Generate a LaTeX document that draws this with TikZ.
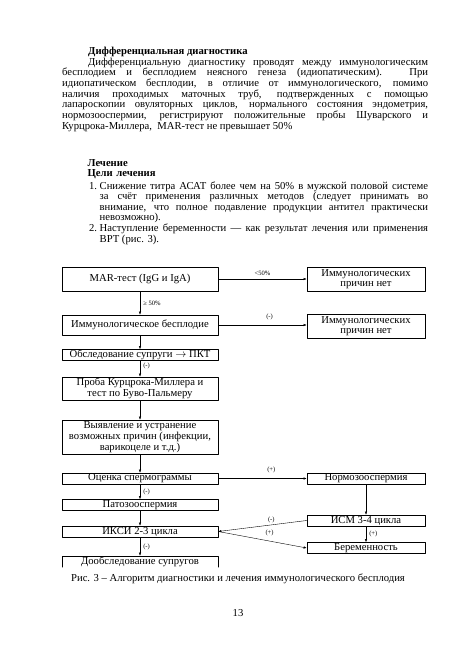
\documentclass[tikz,border=0pt]{standalone}
\usepackage{fontspec}
\setmainfont{Liberation Serif}
\usetikzlibrary{arrows.meta}
\hyphenpenalty=10000
\exhyphenpenalty=10000
\tolerance=10000

\begin{document}
\begin{tikzpicture}[
  x=1.2953pt, y=-1.2953pt,
  line cap=round,
  line join=round,
  font=\fontsize{13.8}{13.8}\selectfont,
  box/.style={draw, line width=0.6pt, inner sep=0pt, align=center,
    minimum width=202pt, minimum height=14.2pt},
  rbox/.style={box, minimum width=153pt},
  arr/.style={-{Latex[length=4pt,width=3pt]}, line width=0.5pt},
  lbl/.style={font=\fontsize{8.5}{9}\selectfont, inner sep=1pt},
  txt/.style={inner sep=0pt, anchor=base west, align=justify}
]
  \useasboundingbox (0,0) rectangle (459,650);

  % Текст страницы
  \node[txt, text width=474.1pt] (diff) at (62,54.5) {%
    \hspace*{33.7pt}\textbf{Дифференциальная диагностика}\\
    \hspace*{33.7pt}Дифференциальную диагностику проводят между иммунологическим\linebreak
    бесплодием и бесплодием неясного генеза (идиопатическим). При\linebreak
    идиопатическом бесплодии, в отличие от иммунологического, помимо\linebreak
    наличия проходимых маточных труб, подтвержденных с помощью\linebreak
    лапароскопии овуляторных циклов, нормального состояния эндометрия,\linebreak
    нормозооспермии, регистрируют положительные пробы Шуварского и\linebreak
    Курцрока-Миллера,\ \ MAR-тест не превышает 50\%};
  \node[txt, text width=200pt, align=left] (heads) at (87.5,166) {\textbf{Лечение}\\\textbf{Цели лечения}};
  \node[txt, text width=425.5pt] (goals) at (99.5,189) {%
    \llap{1.\ }Снижение титра АСАТ более чем на 50\% в мужской половой системе\linebreak
    за счёт применения различных методов (следует принимать во\linebreak
    внимание, что полное подавление продукции антител практически\linebreak
    невозможно).\\
    \llap{2.\ }Наступление беременности — как результат лечения или применения\linebreak
    ВРТ (рис. 3).};

  % Левая колонка
  \node[box, minimum height=31.1pt] (mar) at (140,279) {MAR-тест (IgG и IgA)};
  \node[box, minimum height=25.9pt] (immun) at (140,325) {Иммунологическое бесплодие};
  \node[box] (wife) at (140,355) {Обследование супруги $\rightarrow$ ПКТ};
  \node[box, minimum height=29.8pt] (kurz) at (140,388.5) {Проба Курцрока-Миллера и\\тест по Буво-Пальмеру};
  \node[box, minimum height=44pt] (cause) at (140,437) {Выявление и устранение\\возможных причин (инфекции,\\варикоцеле и т.д.)};
  \node[box] (sperm) at (140,478.5) {Оценка спермограммы};
  \node[box] (pato) at (140,505) {Патозооспермия};
  \node[box] (iksi) at (140,531.5) {ИКСИ 2-3 цикла};
  \node[box, draw=none] (more) at (140,561.5) {Дообследование супругов};
  \draw[line width=0.6pt] (more.south west) -- (more.north west)
    -- (more.north east) -- (more.south east);

  % Правая колонка
  \node[rbox, minimum height=31.1pt] (nomar) at (366,279) {Иммунологических\\причин нет};
  \node[rbox, minimum height=31.1pt] (noimm) at (366,326) {Иммунологических\\причин нет};
  \node[rbox] (normo) at (366,478.5) {Нормозооспермия};
  \node[rbox] (ism) at (366,520.5) {ИСМ 3-4 цикла};
  \node[rbox] (berem) at (366,548) {Беременность};

  % Стрелки
  \draw[arr] (mar) -- node[lbl, above=3pt] {<50\%} (nomar);
  \draw[arr] (mar) -- node[lbl, right=3pt] {≥ 50\%} (immun);
  \draw[arr] (immun.east) -- node[lbl, above=5pt, pos=0.58] {(-)} (immun.east -| noimm.west);
  \draw[arr] (immun) -- (wife);
  \draw[arr] (wife) -- node[lbl, right=3pt, pos=0.35] {(-)} (kurz);
  \draw[arr] (kurz) -- (cause);
  \draw[arr] (cause) -- (sperm);
  \draw[arr] (sperm) -- node[lbl, above=6pt, pos=0.6] {(+)} (normo);
  \draw[arr] (sperm) -- node[lbl, right=3pt] {(-)} (pato);
  \draw[arr] (pato) -- (iksi);
  \draw[arr] (iksi) -- node[lbl, right=3pt] {(-)} (more);
  \draw[arr] (normo) -- (ism);
  \draw[arr] (ism) -- node[lbl, right=3pt] {(+)} (berem);
  \draw[arr] (ism.west) -- node[lbl, above=1pt, pos=0.4] {(-)} (iksi.east);
  \draw[arr] (iksi.east) -- node[lbl, above=6pt, pos=0.58] {(+)} (berem.west);

  % Подпись и номер страницы
  \node (caption) at (238,579) {Рис. 3 – Алгоритм диагностики и лечения иммунологического бесплодия};
  \node (page) at (238,613) {13};
\end{tikzpicture}
\end{document}
